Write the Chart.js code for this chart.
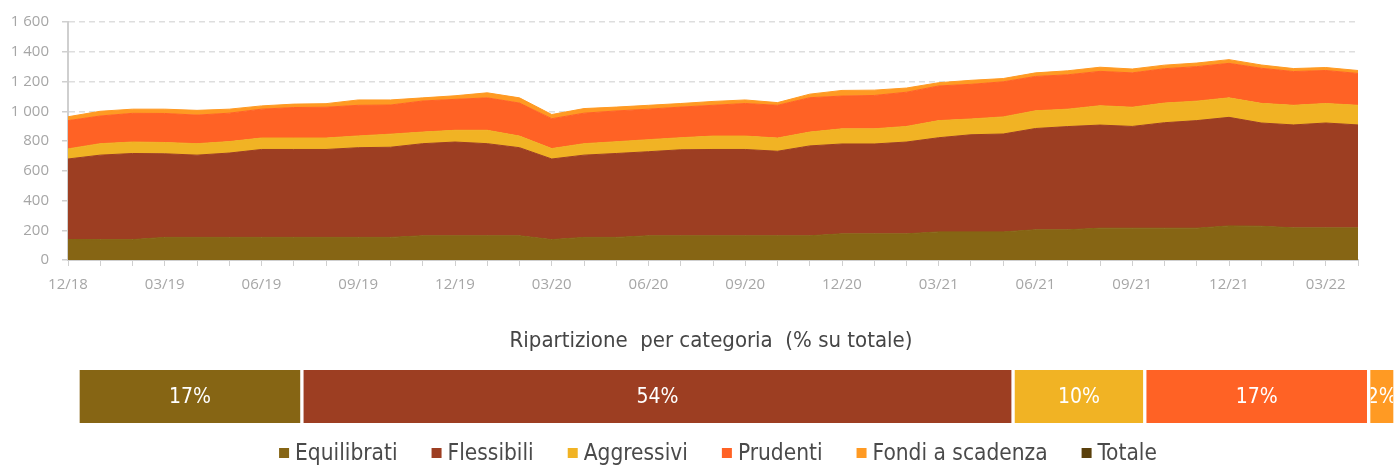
<!DOCTYPE html>
<html lang="it">
<head>
<meta charset="UTF-8">
<title>Ripartizione per categoria</title>
<script src="https://cdn.jsdelivr.net/npm/chart.js"></script>
<style>
  body { margin: 0; background: #fff; }
  #wrap { position: relative; width: 1395px; height: 467px; }
  #areaChart { position: absolute; left: 0; top: 0; }
  #shareChart { position: absolute; left: 0; top: 300px; }
</style>
</head>
<body>
<div id="wrap">
  <canvas id="areaChart" width="1395" height="300"></canvas>
  <canvas id="shareChart" width="1395" height="167"></canvas>
</div>
<script>
// monthly series, 12/18 - 04/22
const mesi = [
  '12/18', '01/19', '02/19', '03/19', '04/19', '05/19', '06/19', '07/19', '08/19', '09/19', '10/19', '11/19',
  '12/19', '01/20', '02/20', '03/20', '04/20', '05/20', '06/20', '07/20', '08/20', '09/20', '10/20', '11/20',
  '12/20', '01/21', '02/21', '03/21', '04/21', '05/21', '06/21', '07/21', '08/21', '09/21', '10/21', '11/21',
  '12/21', '01/22', '02/22', '03/22', '04/22'
];

const categorie = ['Equilibrati', 'Flessibili', 'Aggressivi', 'Prudenti', 'Fondi a scadenza'];

const equilibrati = [138, 137, 137, 152, 152, 152, 152, 152, 152, 152, 152, 163, 163, 163, 163, 137, 152, 152, 163, 163, 163,
  163, 163, 163, 176, 176, 176, 189, 189, 189, 203, 203, 214, 214, 214, 214, 229, 227, 216, 216, 216];
const flessibili = [541, 568, 579, 562, 553, 567, 591, 591, 591, 603, 606, 619, 630, 619, 592, 542, 553, 564, 565, 578, 580,
  580, 568, 604, 604, 604, 617, 633, 653, 658, 681, 694, 693, 684, 709, 723, 730, 694, 692, 705, 692];
const aggressivi = [68, 77, 77, 76, 77, 77, 77, 77, 77, 79, 88, 78, 79, 90, 78, 70, 77, 79, 81, 81, 90,
  90, 89, 93, 102, 102, 105, 115, 106, 115, 119, 117, 130, 129, 132, 131, 131, 132, 132, 131, 132];
const prudenti = [190, 186, 193, 195, 192, 191, 194, 205, 207, 206, 196, 209, 208, 218, 222, 201, 205, 207, 205, 206, 207,
  219, 220, 231, 220, 224, 230, 233, 233, 236, 231, 231, 231, 231, 231, 232, 232, 236, 227, 222, 214];
const fondiScadenza = [26, 32, 28, 29, 32, 27, 22, 23, 24, 36, 34, 21, 24, 34, 35, 28, 31, 26, 26, 24, 26,
  24, 18, 24, 38, 36, 28, 22, 27, 22, 24, 27, 28, 26, 24, 24, 25, 22, 20, 20, 20];

// share of total at the last date (%)
const quote = [17, 54, 10, 17, 2];

const titolo = 'Ripartizione  per categoria  (% su totale)';

const colori = ['#866514', '#9d3e22', '#f1b324', '#ff6225', '#ff9a23'];
const coloreTotale = '#5a400c';

const NARROW = "'Liberation Sans Narrow', 'Arial Narrow', 'DejaVu Sans Condensed', sans-serif";
const TICK_FONT = "'Open Sans', sans-serif";

const serie = [equilibrati, flessibili, aggressivi, prudenti, fondiScadenza];

// --- stacked areas ---
new Chart(document.getElementById('areaChart'), {
  type: 'line',
  data: {
    labels: mesi,
    datasets: serie.map((s, i) => ({
      label: categorie[i],
      data: s,
      fill: i === 0 ? 'origin' : '-1',
      backgroundColor: colori[i],
      borderColor: colori[i],
      borderWidth: 1,
      pointRadius: 0,
      tension: 0
    }))
  },
  options: {
    responsive: false,
    animation: false,
    layout: { padding: { top: 18, right: 37, left: 0, bottom: 0 } },
    plugins: { legend: { display: false }, tooltip: { enabled: false } },
    scales: {
      x: {
        grid: { drawOnChartArea: false, tickLength: 6, color: '#cfcfcf' },
        border: { color: '#cfcfcf', width: 2 },
        ticks: {
          autoSkip: false, maxRotation: 0, padding: 10,
          color: '#a6a6a6', font: { family: TICK_FONT, size: 15 },
          callback: (v, i) => (i % 3 === 0 ? mesi[i] : '')
        },
        afterFit: s => { s.height = 40; }
      },
      y: {
        stacked: true,
        min: 0, max: 1600,
        grid: { color: '#dedede', lineWidth: 1.5, tickColor: '#cfcfcf', tickLength: 6 },
        border: { color: '#cfcfcf', width: 2, dash: [6, 4] },
        ticks: {
          stepSize: 200, padding: 13,
          color: '#a6a6a6', font: { family: TICK_FONT, size: 15 },
          callback: v => String(v).replace(/\B(?=(\d{3})+(?!\d))/g, ' ')
        },
        afterFit: s => { s.width = 68; }
      }
    }
  }
});

// --- percentage labels inside the bar segments ---
const etichetteQuote = {
  id: 'etichetteQuote',
  afterDatasetsDraw(chart) {
    const ctx = chart.ctx;
    ctx.save();
    ctx.font = `21px ${NARROW}`;
    ctx.fillStyle = '#ffffff';
    ctx.textAlign = 'center';
    ctx.textBaseline = 'middle';
    chart.data.datasets.forEach((ds, i) => {
      const bar = chart.getDatasetMeta(i).data[0];
      const { x, base, y, height } = bar.getProps(['x', 'base', 'y', 'height'], true);
      const left = Math.min(x, base), right = Math.max(x, base);
      ctx.save();
      ctx.beginPath();
      ctx.rect(left + 2, y - height / 2, right - left - 4, height);
      ctx.clip();
      ctx.fillText(ds.data[0] + '%', (left + right) / 2, y + 1);
      ctx.restore();
    });
    ctx.restore();
  }
};

// --- title above and legend row under the bar (legend includes Totale) ---
const titoloELegenda = {
  id: 'titoloELegenda',
  afterDraw(chart) {
    const ctx = chart.ctx;
    ctx.save();
    ctx.textBaseline = 'middle';

    ctx.font = `22px ${NARROW}`;
    ctx.fillStyle = '#454545';
    ctx.textAlign = 'center';
    ctx.fillText(titolo, 711, 41);

    const voci = categorie.map((c, i) => ({ text: c, color: colori[i] }))
      .concat([{ text: 'Totale', color: coloreTotale }]);
    ctx.font = `22.5px ${NARROW}`;
    ctx.textAlign = 'left';
    const box = 10, gapBox = 6, gapItem = 34;
    const larghezze = voci.map(v => box + gapBox + ctx.measureText(v.text).width);
    const totale = larghezze.reduce((a, b) => a + b, 0) + gapItem * (voci.length - 1);
    let x = 718 - totale / 2;
    const y = 153;
    voci.forEach((v, i) => {
      ctx.fillStyle = v.color;
      ctx.fillRect(x, y - 5, box, box);
      ctx.fillStyle = '#4a4a4a';
      ctx.fillText(v.text, x + box + gapBox, y + 1);
      x += larghezze[i] + gapItem;
    });
    ctx.restore();
  }
};

// --- horizontal 100% bar ---
new Chart(document.getElementById('shareChart'), {
  type: 'bar',
  data: {
    labels: [''],
    datasets: categorie.map((c, i) => ({
      label: c,
      data: [quote[i]],
      backgroundColor: colori[i],
      borderColor: '#ffffff',
      borderWidth: { left: 2, right: 2, top: 0, bottom: 0 },
      borderSkipped: false,
      barPercentage: 1,
      categoryPercentage: 1
    }))
  },
  options: {
    indexAxis: 'y',
    responsive: false,
    animation: false,
    layout: { padding: { left: 78, right: 0, top: 70, bottom: 44 } },
    scales: {
      x: { stacked: true, min: 0, max: 100, display: false },
      y: { stacked: true, display: false }
    },
    plugins: {
      legend: { display: false },
      tooltip: { enabled: false },
      title: { display: false }
    }
  },
  plugins: [etichetteQuote, titoloELegenda]
});
</script>
</body>
</html>
